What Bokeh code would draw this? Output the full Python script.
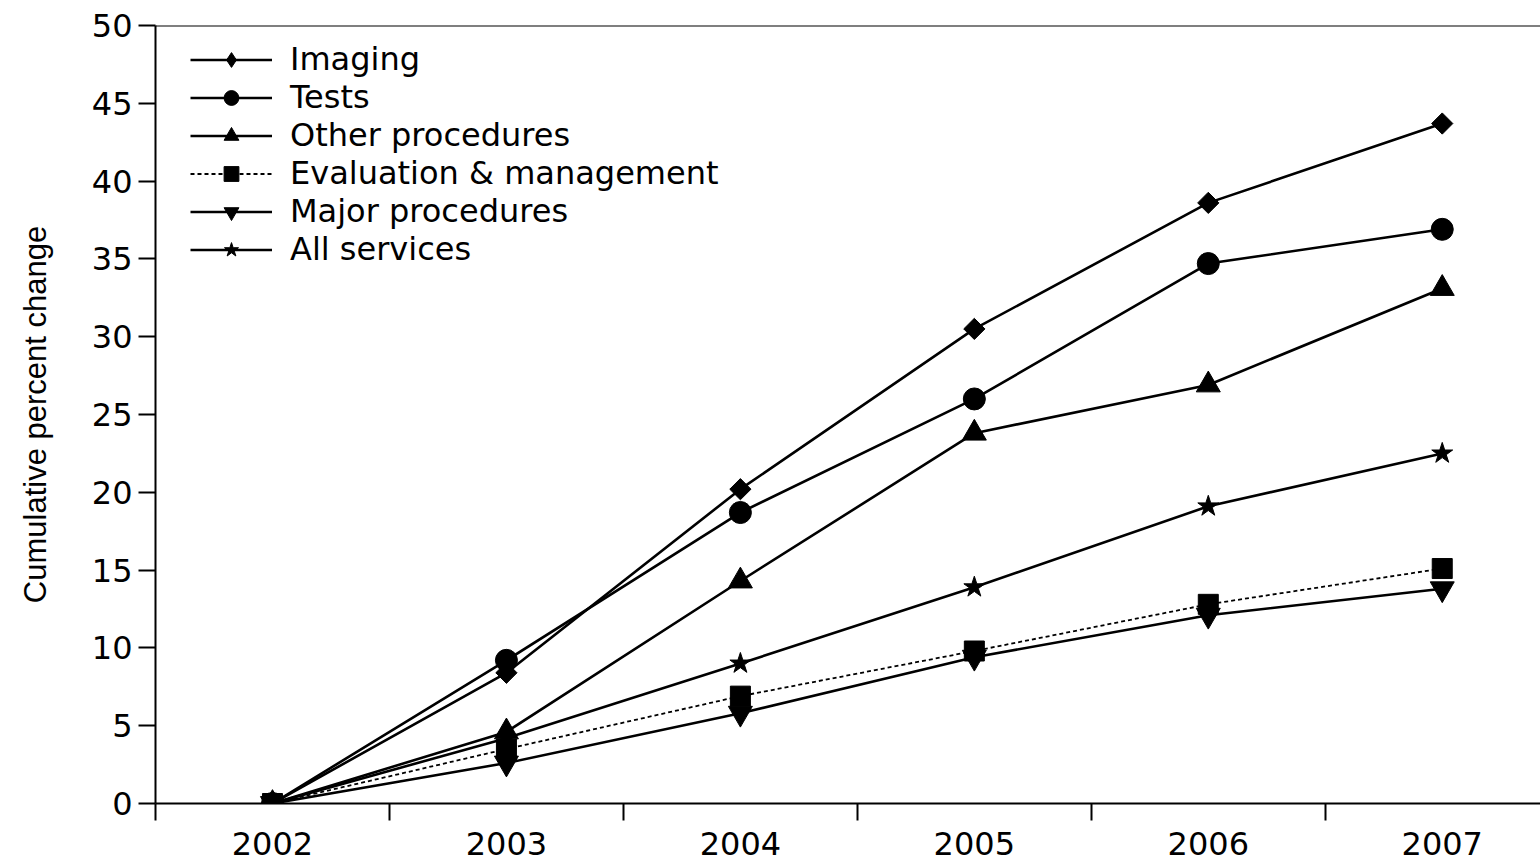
import math
from bokeh.plotting import figure
from bokeh.models import Range1d, FixedTicker, Legend, LegendItem, Span
from bokeh.embed import file_html
from bokeh.resources import INLINE

years = [2002, 2003, 2004, 2005, 2006, 2007]
imaging = [0, 8.4, 20.2, 30.5, 38.6, 43.7]
tests = [0, 9.2, 18.7, 26.0, 34.7, 36.9]
other_procedures = [0, 4.6, 14.3, 23.8, 26.9, 33.1]
eval_management = [0, 3.5, 6.9, 9.8, 12.8, 15.1]
major_procedures = [0, 2.6, 5.8, 9.4, 12.1, 13.8]
all_services = [0, 4.2, 9.0, 13.9, 19.1, 22.5]
y_ticks = [0, 5, 10, 15, 20, 25, 30, 35, 40, 45, 50]
x_boundaries = [2001.5, 2002.5, 2003.5, 2004.5, 2005.5, 2006.5, 2007.5]

FONT = "DejaVu Sans"
LABEL_FONT = "Liberation Sans"

p = figure(width=1540, height=863, output_backend="svg", toolbar_location=None,
           x_range=Range1d(2001.5, 2007.42), y_range=Range1d(0, 50),
           min_border_left=155, min_border_top=25, min_border_right=0, min_border_bottom=60)
p.background_fill_color = "white"
p.border_fill_color = "white"
p.outline_line_color = None
p.xgrid.visible = False
p.ygrid.visible = False

# x axis
xa = p.xaxis[0]
xa.ticker = FixedTicker(ticks=years, minor_ticks=x_boundaries)
xa.major_tick_out = 0
xa.major_tick_in = 0
xa.minor_tick_out = 17
xa.minor_tick_in = 0
xa.minor_tick_line_color = "black"
xa.minor_tick_line_width = 2
xa.axis_line_width = 2
xa.axis_line_color = "black"
xa.major_label_text_font = FONT
xa.major_label_text_font_size = "32px"
xa.major_label_text_color = "black"
xa.major_label_standoff = 11

# y axis
ya = p.yaxis[0]
ya.ticker = FixedTicker(ticks=y_ticks)
ya.major_tick_out = 17
ya.major_tick_in = 0
ya.major_tick_line_width = 2
ya.minor_tick_line_color = None
ya.axis_line_width = 2
ya.axis_line_color = "black"
ya.major_label_text_font = FONT
ya.major_label_text_font_size = "32px"
ya.major_label_text_color = "black"
ya.major_label_standoff = 6
ya.axis_label = "Cumulative percent change"
ya.axis_label_text_font = LABEL_FONT
ya.axis_label_text_font_size = "31px"
ya.axis_label_text_font_style = "normal"
ya.axis_label_text_color = "black"
ya.axis_label_standoff = 36

p.add_layout(Span(location=50, dimension="width", line_color="black", line_width=2))

series = [
    ("Imaging", imaging, "square", 15, math.pi / 4, "solid"),
    ("Tests", tests, "circle", 22, 0, "solid"),
    ("Other procedures", other_procedures, "triangle", 24, 0, "solid"),
    ("Evaluation & management", eval_management, "square", 20, 0, "4 3"),
    ("Major procedures", major_procedures, "inverted_triangle", 24, 0, "solid"),
    ("All services", all_services, "star", 22, 0, "solid"),
]

lines = {}
for name, vals, marker, size, ang, dash in series:
    lw = 1.8 if dash != "solid" else 2.6
    lines[name] = p.line(years, vals, line_color="black", line_width=lw, line_dash=dash)

draw_order = [5, 4, 2, 1, 0, 3]
scatters = {}
for i in draw_order:
    name, vals, marker, size, ang, dash = series[i]
    scatters[name] = p.scatter(years, vals, marker=marker, size=size, angle=ang,
                               fill_color="black", line_color="black")

# legend swatch for the diamond (legend swatches ignore marker angle)
diamond_key = p.scatter(x=[years[0]], y=[float("nan")], marker="diamond", size=24,
                        fill_color="black", line_color="black")

items = []
for s in series:
    sc = diamond_key if s[0] == "Imaging" else scatters[s[0]]
    items.append(LegendItem(label=s[0], renderers=[lines[s[0]], sc]))

legend = Legend(items=items, location=(35, 535))
legend.border_line_color = None
legend.background_fill_alpha = 0
legend.padding = 0
legend.margin = 0
legend.spacing = 0
legend.glyph_width = 82
legend.glyph_height = 37
legend.label_height = 37
legend.label_standoff = 18
legend.label_text_font = FONT
legend.label_text_font_size = "32px"
legend.label_text_color = "black"
p.add_layout(legend)

open("out.html", "w").write(file_html(p, INLINE))
